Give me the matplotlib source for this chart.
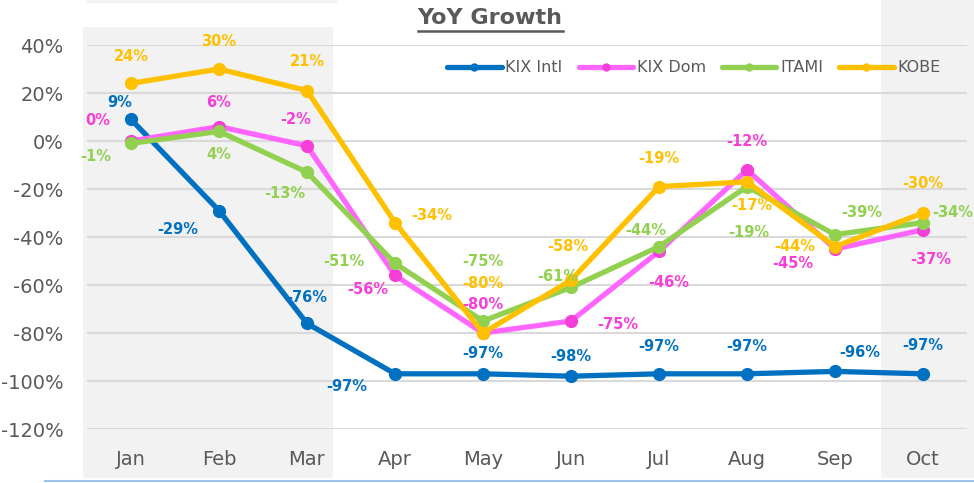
import matplotlib
matplotlib.use("Agg")
import matplotlib.pyplot as plt
from matplotlib.lines import Line2D
from matplotlib.patches import Rectangle

# data (percent)
months = ["Jan", "Feb", "Mar", "Apr", "May", "Jun", "Jul", "Aug", "Sep", "Oct"]
kix_intl = [9, -29, -76, -97, -97, -98, -97, -97, -96, -97]
kix_dom = [0, 6, -2, -56, -80, -75, -46, -12, -45, -37]
itami = [-1, 4, -13, -51, -75, -61, -44, -19, -39, -34]
kobe = [24, 30, 21, -34, -80, -58, -19, -17, -44, -30]
series_names = ["KIX Intl", "KIX Dom", "ITAMI", "KOBE"]
yticks = [-120, -100, -80, -60, -40, -20, 0, 20, 40]

# label offsets in pixels (dx, dy), one list per series
off_intl = [(-11, 17), (-41, -19), (0, 26), (-48, -13), (0, 20), (0, 20), (0, 27), (0, 27), (25, 19), (0, 28)]
off_dom = [(-33, 21), (0, 24), (-11, 26), (-27, -14), (0, 29), (47, -3), (10, -31), (0, 28), (-42, -14), (8, -30)]
off_itami = [(-35, -13), (0, -23), (-22, -21), (-51, 2), (0, 60), (-13, 11), (-13, 16), (2, -46), (27, 22), (30, 10)]
off_kobe = [(0, 27), (0, 28), (0, 29), (37, 7), (0, 50), (-3, 34), (0, 28), (5, -24), (-40, 0), (0, 30)]

line_colors = ["#0070C0", "#FF66FF", "#92D050", "#FFC000"]
marker_colors = ["#0070C0", "#F53FD8", "#92D050", "#FFC000"]
label_colors = ["#0070C0", "#F53FD8", "#92D050", "#FFC000"]
grey = "#595959"

W, H = 974, 483
fig = plt.figure(figsize=(W / 100, H / 100), dpi=100)

def px_rect(x0, y0, x1, y1, color):
    # rectangle given in image pixel coords (y from top)
    fig.patches.append(Rectangle((x0 / W, 1 - y1 / H), (x1 - x0) / W, (y1 - y0) / H,
                                 transform=fig.transFigure, facecolor=color,
                                 edgecolor="none", zorder=-5))

# shaded bands from the original picture
px_rect(83, 27, 333, 478, "#F2F2F2")
px_rect(881, 0, 974, 478, "#F2F2F2")
px_rect(87, 0, 337, 3, "#F2F2F2")
fig.add_artist(Line2D([45 / W, 1], [1 - 481 / H, 1 - 481 / H], transform=fig.transFigure,
                      color="#9DC3E6", lw=1.5))

ax = fig.add_axes([87 / W, 1 - 429 / H, 880 / W, 384 / H])
ax.patch.set_alpha(0)
x = list(range(len(months)))

all_series = [kix_intl, kix_dom, itami, kobe]
all_offsets = [off_intl, off_dom, off_itami, off_kobe]
for i, (vals, offs) in enumerate(zip(all_series, all_offsets)):
    ax.plot(x, vals, color=line_colors[i], lw=3.8, marker="o", ms=8.5,
            mfc=marker_colors[i], mec=marker_colors[i], zorder=3 + i,
            solid_capstyle="round", solid_joinstyle="round")
    for xi, v, (dx, dy) in zip(x, vals, offs):
        ax.annotate(f"{v}%", (xi, v), xytext=(dx, dy), textcoords="offset pixels",
                    ha="center", va="center", fontsize=10.5, fontweight="bold",
                    color=label_colors[i], zorder=10)

ax.set_xlim(-0.5, len(months) - 0.5)
ax.set_ylim(-120, 40)
ax.set_yticks(yticks)
ax.set_yticklabels([f"{t}%" for t in yticks])
ax.set_xticks(x)
ax.set_xticklabels(months)
ax.tick_params(length=0, labelsize=14, colors=grey)
ax.tick_params(axis="y", pad=17)
ax.tick_params(axis="x", pad=15)
ax.grid(axis="y", color="#D9D9D9", lw=1.5)
ax.set_axisbelow(True)
for s in ax.spines.values():
    s.set_visible(False)

handles = [Line2D([], [], color=line_colors[i], lw=3.8, marker="o", ms=5,
                  mfc=marker_colors[i], mec=marker_colors[i], solid_capstyle="round")
           for i in range(4)]
ax.legend(handles, series_names, loc="center", bbox_to_anchor=(694 / W, 1 - 68 / H),
          bbox_transform=fig.transFigure, ncol=4, frameon=False, fontsize=11.5,
          handlelength=3.4, handletextpad=0.25, columnspacing=1.0, labelcolor=grey)

title = fig.text(490 / W, 1 - 18 / H, "YoY Growth", ha="center", va="center",
                 fontsize=16, fontweight="bold", color=grey)
fig.canvas.draw()
bb = title.get_window_extent().transformed(fig.transFigure.inverted())
fig.add_artist(Line2D([bb.x0, bb.x1], [1 - 31 / H, 1 - 31 / H], transform=fig.transFigure,
                      color=grey, lw=1.8))

plt.savefig("out.png", dpi=100)
